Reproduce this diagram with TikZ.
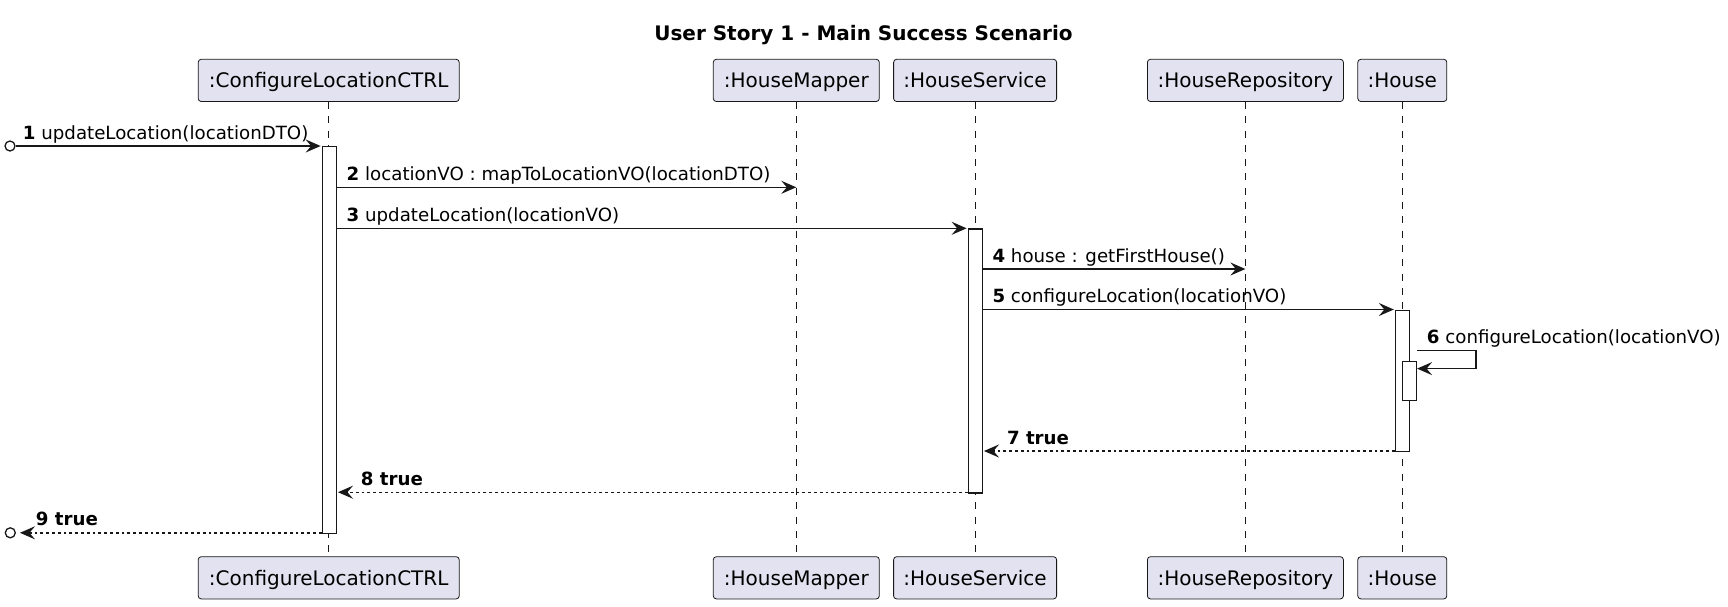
\documentclass[tikz,border=0pt]{standalone}
\usepackage{fontspec}
\setmainfont{DejaVu Sans}
\usetikzlibrary{arrows.meta}
\definecolor{partfill}{HTML}{E2E2F0}
\definecolor{ink}{HTML}{181818}

\begin{document}
\begin{tikzpicture}[x=1pt,y=-1pt,
  part/.style={draw=ink, line width=0.8pt, fill=partfill, rounded corners=3pt,
    minimum height=42.2pt, inner sep=0pt, text height=14.6pt, text depth=0pt,
    font=\fontsize{20}{24}\selectfont},
  life/.style={draw=ink, line width=0.9pt, dash pattern=on 7pt off 7.3pt},
  act/.style={draw=ink, fill=white, line width=1.3pt, minimum width=14pt,
    inner sep=0pt, anchor=north},
  msg/.style={draw=ink, line width=1.4pt, -{Stealth[length=15pt,width=13pt,inset=5.5pt]}},
  ret/.style={msg, dash pattern=on 2.9pt off 2.9pt},
  lbl/.style={anchor=base west, inner sep=0pt, font=\fontsize{18.2}{22}\selectfont},
  retlbl/.style={lbl, font=\bfseries\fontsize{18.2}{22}\selectfont},
  endpt/.style={draw=ink, circle, line width=1.3pt, minimum size=10pt, inner sep=0pt, fill=white}
]
\useasboundingbox (0,0) rectangle (1728,606);

% title
\node[anchor=base, font=\bfseries\fontsize{20}{24}\selectfont] (title) at (863.5,40)
  {User Story 1 - Main Success Scenario};

% participants (head and foot)
\node[part, minimum width=261pt] (ctrlT) at (328.7,80.4) {:ConfigureLocationCTRL};
\node[part, minimum width=166pt] (mapT)  at (796.3,80.4) {:HouseMapper};
\node[part, minimum width=163pt] (servT) at (975.1,80.4) {:HouseService};
\node[part, minimum width=196pt] (repoT) at (1245.4,80.4) {:HouseRepository};
\node[part, minimum width=89pt]  (houseT) at (1402.3,80.4) {:House};

\node[part, minimum width=261pt] (ctrlB) at (328.7,577.8) {:ConfigureLocationCTRL};
\node[part, minimum width=166pt] (mapB)  at (796.3,577.8) {:HouseMapper};
\node[part, minimum width=163pt] (servB) at (975.1,577.8) {:HouseService};
\node[part, minimum width=196pt] (repoB) at (1245.4,577.8) {:HouseRepository};
\node[part, minimum width=89pt]  (houseB) at (1402.3,577.8) {:House};

% lifelines
\draw[life] (ctrlT.south) -- (ctrlB.north);
\draw[life] (mapT.south) -- (mapB.north);
\draw[life] (servT.south) -- (servB.north);
\draw[life] (repoT.south) -- (repoB.north);
\draw[life] (houseT.south) -- (houseB.north);

% message rows
\coordinate (r1) at (0,146);
\coordinate (r2) at (0,187.3);
\coordinate (r3) at (0,228.3);
\coordinate (r4) at (0,269);
\coordinate (r5) at (0,309.5);
\coordinate (r6a) at (0,350.3);
\coordinate (r6b) at (0,368.6);
\coordinate (r7) at (0,451);
\coordinate (r8) at (0,492.2);
\coordinate (r9) at (0,532.8);

% activations
\node[act, minimum height=386.8pt] (actCtrl) at (329.3,146) {};
\node[act, minimum height=263.9pt] (actServ) at (975.3,228.3) {};
\node[act, minimum height=141.5pt] (actHouse) at (1402.5,309.5) {};
\node[act, minimum height=39pt] (actInner) at (1409.4,361) {};

% external endpoints
\node[endpt] (src) at (10,146) {};
\node[endpt] (sink) at (10.3,532.8) {};

% messages
\draw[msg, shorten >=1pt] (src.east) -- (actCtrl.west |- r1);
\node[lbl] (l1) at (22.7,139) {\textbf{1} updateLocation(locationDTO)};

\draw[msg] (actCtrl.east |- r2) -- (mapT.south |- r2);
\node[lbl] (l2) at (346.5,180.3) {\textbf{2} locationVO : mapToLocationVO(locationDTO)};

\draw[msg, shorten >=1pt] (actCtrl.east |- r3) -- (actServ.west |- r3);
\node[lbl] (l3) at (346.5,221.3) {\textbf{3} updateLocation(locationVO)};

\draw[msg] (actServ.east |- r4) -- (repoT.south |- r4);
\node[lbl] (l4) at (992.3,262) {\textbf{4} house : getFirstHouse()};

\draw[msg, shorten >=1pt] (actServ.east |- r5) -- (actHouse.west |- r5);
\node[lbl] (l5) at (992.3,302.5) {\textbf{5} configureLocation(locationVO)};

\draw[msg] (actInner.east |- r6a) -- ++(59,0) |- (actInner.east |- r6b);
\node[lbl] (l6) at (1426.7,343.3) {\textbf{6} configureLocation(locationVO)};

\draw[ret, shorten >=1pt] (actHouse.west |- r7) -- (actServ.east |- r7);
\node[retlbl] (l7) at (1006.8,444) {7 true};

\draw[ret, shorten >=1pt] (actServ.west |- r8) -- (actCtrl.east |- r8);
\node[retlbl] (l8) at (360.7,485.2) {8 true};

\draw[ret] (actCtrl.west |- r9) -- ([xshift=4pt]sink.east);
\node[retlbl] (l9) at (35.7,525.8) {9 true};
\end{tikzpicture}
\end{document}
